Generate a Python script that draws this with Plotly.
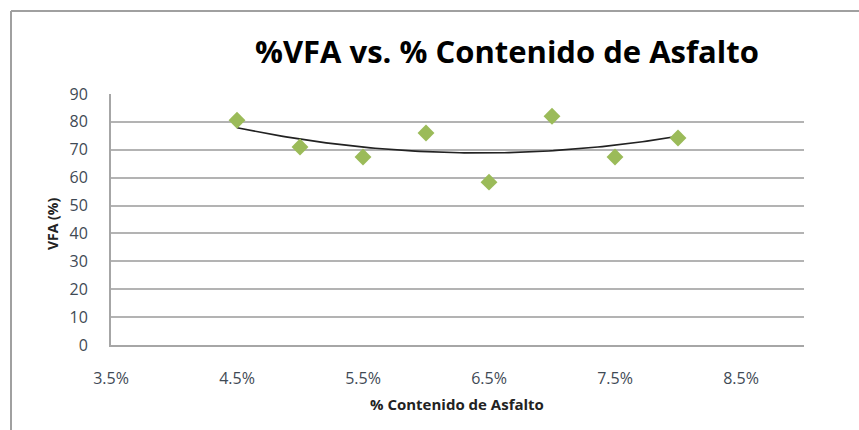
import numpy as np
import plotly.graph_objects as go

asphalt_pct = [4.5, 5.0, 5.5, 6.0, 6.5, 7.0, 7.5, 8.0]
vfa = [80.6, 71.0, 67.4, 76.0, 58.4, 82.0, 67.4, 74.2]
x_ticks = [3.5, 4.5, 5.5, 6.5, 7.5, 8.5]
x_tick_labels = ["3.5%", "4.5%", "5.5%", "6.5%", "7.5%", "8.5%"]
y_ticks = [0, 10, 20, 30, 40, 50, 60, 70, 80, 90]

coef = np.polyfit(asphalt_pct, vfa, 2)
xt = np.linspace(min(asphalt_pct), max(asphalt_pct), 100)
yt = np.polyval(coef, xt)

W, H = 859, 430
L, R, T, B = 111, 804, 94, 345

def px(xp):
    return (xp - L) / (R - L)

def py(yp):
    return (B - yp) / (B - T)

fig = go.Figure()
fig.add_trace(go.Scatter(x=xt, y=yt, mode="lines",
                         line=dict(color="#222222", width=1.6), hoverinfo="skip"))
fig.add_trace(go.Scatter(x=asphalt_pct, y=vfa, mode="markers",
                         marker=dict(symbol="diamond", color="#9bbb59", size=13)))

font_fam = "Open Sans, Liberation Sans, sans-serif"
tick_color = "#3f4a55"

fig.update_layout(
    width=W, height=H,
    margin=dict(l=L, r=W - R, t=T, b=H - B),
    paper_bgcolor="white", plot_bgcolor="white",
    showlegend=False,
    annotations=[
        dict(text="<b>%VFA vs. % Contenido de Asfalto</b>", xref="paper", yref="paper",
             x=px(507), y=py(51), xanchor="center", yanchor="middle", showarrow=False,
             font=dict(family=font_fam, size=31, color="black")),
        dict(text="<b>% Contenido de Asfalto</b>", xref="paper", yref="paper",
             x=px(457), y=py(404), xanchor="center", yanchor="middle", showarrow=False,
             font=dict(family=font_fam, size=15, color="#222222")),
        dict(text="<b>VFA (%)</b>", xref="paper", yref="paper",
             x=px(52), y=py(224), xanchor="center", yanchor="middle", showarrow=False,
             textangle=-90, font=dict(family=font_fam, size=14, color="#222222")),
    ],
    shapes=[
        dict(type="line", xref="paper", yref="paper", x0=px(11), x1=px(859), y0=py(11), y1=py(11),
             line=dict(color="#a0a0a0", width=2)),
        dict(type="line", xref="paper", yref="paper", x0=px(11), x1=px(11), y0=py(11), y1=py(430),
             line=dict(color="#a0a0a0", width=2)),
    ],
)

fig.update_xaxes(range=[3.5, 9.0], tickvals=x_ticks, ticktext=x_tick_labels,
                 showgrid=False, showline=True, linecolor="#a6a6a6", linewidth=2,
                 ticks="", ticklabelstandoff=18, zeroline=False,
                 tickfont=dict(family=font_fam, size=16, color=tick_color))
fig.update_yaxes(range=[0, 90], tickvals=y_ticks,
                 showgrid=True, gridcolor="#b3b3b3", gridwidth=2,
                 showline=True, linecolor="#a6a6a6", linewidth=2,
                 ticks="", ticklabelstandoff=18, zeroline=False,
                 tickfont=dict(family=font_fam, size=16, color=tick_color))

fig.write_html("out.html", config={"displayModeBar": False},
               post_script="document.body.style.margin='0px';")
